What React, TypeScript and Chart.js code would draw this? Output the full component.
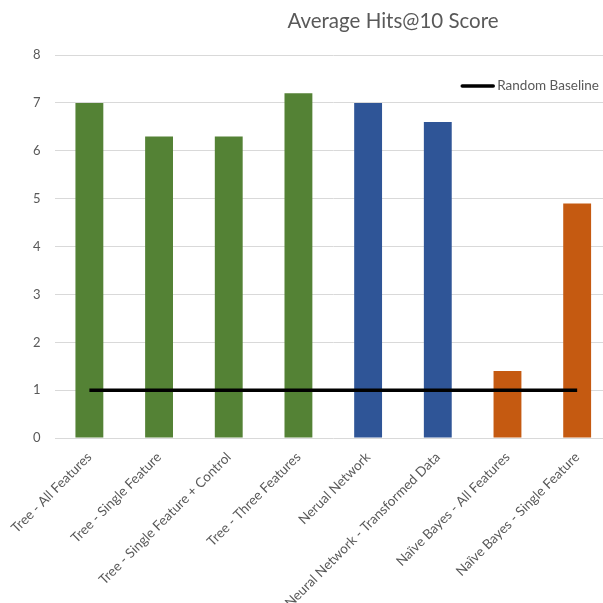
import { useEffect, useRef } from "react";
import { Chart, registerables } from "chart.js";

Chart.register(...registerables);

const categories = [
  "Tree - All Features",
  "Tree - Single Feature",
  "Tree - Single Feature + Control",
  "Tree - Three Features",
  "Nerual Network",
  "Neural Network - Transformed Data",
  "Naïve Bayes - All Features",
  "Naïve Bayes - Single Feature",
];
const scores = [7.0, 6.3, 6.3, 7.2, 7.0, 6.6, 1.4, 4.9];
const baseline = [1, 1, 1, 1, 1, 1, 1, 1];
const barColors = ["#548235", "#548235", "#548235", "#548235", "#2F5597", "#2F5597", "#C55A11", "#C55A11"];
const titleText = "Average Hits@10 Score";
const baselineLabel = "Random Baseline";
const yMin = 0;
const yMax = 8;
const yStep = 1;

const FONT = "Lato";
const TEXT = "#595959";

const titlePlugin = {
  id: "customTitle",
  afterDraw(chart: any) {
    const ctx = chart.ctx;
    const area = chart.chartArea;
    ctx.save();
    // title
    ctx.font = `20.5px ${FONT}`;
    ctx.fillStyle = TEXT;
    ctx.textAlign = "center";
    ctx.textBaseline = "middle";
    ctx.fillText(titleText, 393, 21);
    // legend (inside plot, top right)
    ctx.font = `13.5px ${FONT}`;
    const tw = ctx.measureText(baselineLabel).width;
    const textRight = area.right - 13;
    const textLeft = textRight - tw;
    const ly = area.top + 31;
    ctx.textAlign = "left";
    ctx.fillText(baselineLabel, textLeft, ly);
    ctx.strokeStyle = "#000000";
    ctx.lineWidth = 3.5;
    ctx.lineCap = "round";
    ctx.beginPath();
    ctx.moveTo(textLeft - 35, ly);
    ctx.lineTo(textLeft - 4, ly);
    ctx.stroke();
    ctx.restore();
  },
};

export default function App() {
  const ref = useRef<HTMLCanvasElement | null>(null);
  useEffect(() => {
    if (!ref.current) return;
    const chart = new Chart(ref.current, {
      data: {
        labels: categories,
        datasets: [
          {
            type: "bar",
            label: "Score",
            data: scores,
            backgroundColor: barColors,
            barPercentage: 0.4,
            categoryPercentage: 1,
            order: 2,
          },
          {
            type: "line",
            label: baselineLabel,
            data: baseline,
            borderColor: "#000000",
            backgroundColor: "#000000",
            borderWidth: 3.5,
            pointRadius: 0,
            order: 1,
          },
        ],
      } as any,
      options: {
        animation: false,
        responsive: false,
        layout: { padding: { top: 55, left: 19, right: 0, bottom: 0 } },
        plugins: {
          title: { display: false },
          tooltip: { enabled: false },
          legend: { display: false },
        },
        scales: {
          x: {
            grid: { display: false },
            border: { display: false },
            ticks: {
              color: TEXT,
              font: { family: FONT, size: 13.5 },
              minRotation: 45,
              maxRotation: 45,
              autoSkip: false,
            },
          },
          y: {
            min: yMin,
            max: yMax,
            grid: { color: "#d9d9d9", drawTicks: false },
            border: { display: false },
            ticks: {
              stepSize: yStep,
              color: TEXT,
              font: { family: FONT, size: 13 },
              padding: 14,
            },
          },
        },
      },
      plugins: [titlePlugin],
    });
    return () => chart.destroy();
  }, []);
  return (
    <div style={{ position: "absolute", left: 0, top: 0, width: 603, height: 603, overflow: "hidden", background: "#fff" }}>
      <canvas ref={ref} width={612} height={614} />
    </div>
  );
}
